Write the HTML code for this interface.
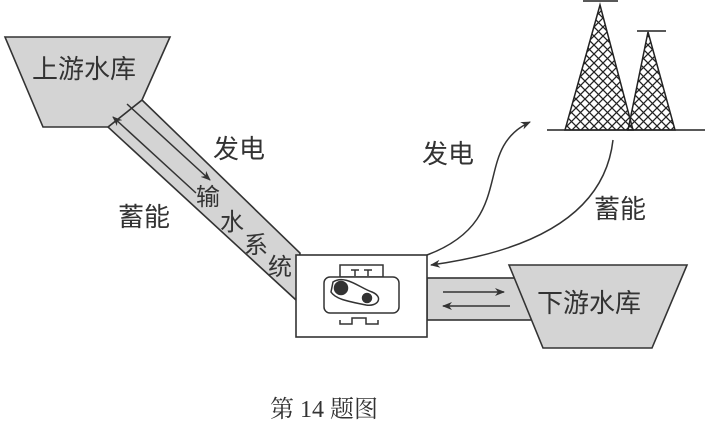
<!DOCTYPE html>
<html><head><meta charset="utf-8"><style>
html,body{margin:0;padding:0;background:#fff;}
svg{display:block;}
text{font-family:"Liberation Sans","Noto Sans CJK SC",sans-serif;fill:#333;}
</style></head><body>
<svg width="709" height="425" viewBox="0 0 709 425" xmlns="http://www.w3.org/2000/svg">
<defs>
<pattern id="hatch" width="9" height="9" patternUnits="userSpaceOnUse">
<path d="M0 0L9 9M9 0L0 9" stroke="#222" stroke-width="1.3"/>
</pattern>
<marker id="ah" markerWidth="10" markerHeight="8" refX="9" refY="4" orient="auto" markerUnits="userSpaceOnUse">
<path d="M0 0L10 4L0 8L3 4Z" fill="#333"/>
</marker>
</defs>
<g stroke="#333" stroke-width="1.6" fill="#d4d4d4">
<path d="M142 100L300 253L296 300L108 127Z"/>
<path d="M5 37L170 37L142 100L108 127L43 127Z"/>
<rect x="427" y="278" width="110" height="42"/>
<path d="M509 265L687 265L652 348L543 348Z"/>
<rect x="296" y="255" width="131" height="82" fill="#fff"/>
</g>
<g stroke="#333" stroke-width="1.5" fill="none">
<line x1="127" y1="104" x2="210" y2="180" marker-end="url(#ah)"/>
<line x1="196" y1="193" x2="113" y2="117" marker-end="url(#ah)"/>
<line x1="443" y1="292" x2="504" y2="292" marker-end="url(#ah)"/>
<line x1="510" y1="306" x2="443" y2="306" marker-end="url(#ah)"/>
<path d="M427 255C520 220 470 150 530 122" marker-end="url(#ah)"/>
<path d="M613 140C605 210 540 250 431 265" marker-end="url(#ah)"/>
</g>
<!-- machine -->
<g stroke="#333" stroke-width="1.5" fill="none">
<rect x="340" y="265" width="43" height="12" fill="#fff"/>
<path d="M351 270h8M355 270v6M364 270h8M368 270v6"/>
<rect x="324" y="277" width="75" height="36" rx="6" fill="#fff"/>
<path d="M333 282C345 274 360 288 372 292C384 297 378 307 366 305C352 302 336 300 331 292Z"/>
<circle cx="341" cy="288" r="6.5" fill="#333"/>
<circle cx="367" cy="298" r="4.5" fill="#333"/>
<path d="M340 320v4h12v-6h14v6h12v-4"/>
</g>
<!-- towers -->
<g stroke="#222" stroke-width="1.5">
<path d="M600 5L633 130L565 130Z" fill="url(#hatch)"/>
<path d="M648 32L675 130L628 130Z" fill="url(#hatch)"/>
<line x1="583" y1="1" x2="618" y2="1"/>
<line x1="637" y1="31" x2="666" y2="31"/>
<line x1="547" y1="130" x2="705" y2="130"/>
</g>
<g font-size="26">
<text x="32" y="78">上游水库</text>
<text x="213" y="158">发电</text>
<text x="118" y="226">蓄能</text>
<text x="196" y="205" font-size="24">输</text>
<text x="220" y="230" font-size="24">水</text>
<text x="244" y="253" font-size="24">系</text>
<text x="268" y="275" font-size="24">统</text>
<text x="422" y="163">发电</text>
<text x="594" y="218">蓄能</text>
<text x="537" y="312">下游水库</text>
<text x="270" y="417" font-size="24" style="font-family:'Liberation Serif','Noto Serif CJK SC',serif">第 14 题图</text>
</g>
</svg>
</body></html>
